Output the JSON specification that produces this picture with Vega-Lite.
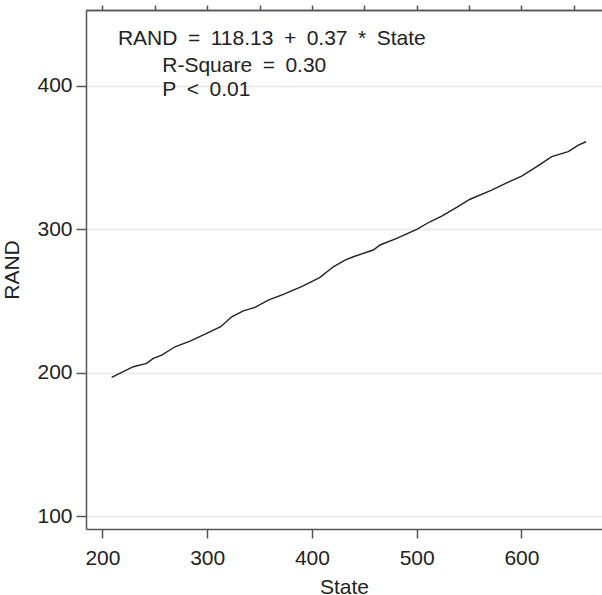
{
  "$schema": "https://vega.github.io/schema/vega-lite/v6.json",
  "autosize": {"type": "none"},
  "padding": {"left": 86, "top": 10, "right": 0, "bottom": 66},
  "width": 516,
  "height": 519,
  "background": "white",
  "config": {
    "view": {"stroke": null},
    "font": "Liberation Sans",
    "axis": {
      "labelFont": "Liberation Sans",
      "titleFont": "Liberation Sans",
      "labelFontSize": 21,
      "titleFontSize": 21,
      "titleFontWeight": "normal",
      "labelColor": "#222",
      "titleColor": "#222",
      "domainColor": "#555",
      "domainWidth": 1.5,
      "tickColor": "#555",
      "tickWidth": 1.5
    }
  },
  "layer": [
    {
      "data": {"values": [
        {"State": 208.8, "RAND": 196.8},
        {"State": 229.5, "RAND": 204.2},
        {"State": 242.2, "RAND": 206.5},
        {"State": 248.5, "RAND": 210.0},
        {"State": 256.6, "RAND": 212.3},
        {"State": 269.3, "RAND": 218.1},
        {"State": 283.6, "RAND": 222.1},
        {"State": 299.5, "RAND": 227.5},
        {"State": 312.9, "RAND": 232.1},
        {"State": 323.4, "RAND": 239.0},
        {"State": 334.5, "RAND": 243.2},
        {"State": 345.6, "RAND": 245.6},
        {"State": 358.3, "RAND": 250.7},
        {"State": 372.7, "RAND": 254.7},
        {"State": 391.7, "RAND": 260.5},
        {"State": 407.7, "RAND": 266.5},
        {"State": 420.4, "RAND": 273.9},
        {"State": 431.6, "RAND": 278.6},
        {"State": 439.5, "RAND": 280.9},
        {"State": 458.6, "RAND": 285.6},
        {"State": 465.0, "RAND": 289.1},
        {"State": 480.9, "RAND": 293.7},
        {"State": 500.0, "RAND": 300.0},
        {"State": 512.7, "RAND": 305.3},
        {"State": 523.9, "RAND": 309.3},
        {"State": 538.2, "RAND": 315.4},
        {"State": 550.9, "RAND": 321.0},
        {"State": 571.6, "RAND": 327.4},
        {"State": 585.9, "RAND": 332.5},
        {"State": 600.2, "RAND": 337.2},
        {"State": 614.6, "RAND": 343.7},
        {"State": 628.9, "RAND": 350.7},
        {"State": 644.7, "RAND": 354.2},
        {"State": 654.3, "RAND": 358.8},
        {"State": 661.6, "RAND": 361.1}
      ]},
      "mark": {"type": "line", "color": "#222", "strokeWidth": 1.4, "clip": true},
      "encoding": {
        "x": {
          "field": "State", "type": "quantitative",
          "scale": {"domain": [184.3, 676.9], "nice": false, "zero": false},
          "axis": {
            "title": "State", "values": [200, 300, 400, 500, 600],
            "grid": false, "tickSize": 9, "labelPadding": 9, "titlePadding": 8
          }
        },
        "y": {
          "field": "RAND", "type": "quantitative",
          "scale": {"domain": [91, 453], "nice": false, "zero": false},
          "axis": {
            "title": "RAND", "values": [100, 200, 300, 400],
            "grid": true, "gridColor": "#e6e6e6", "gridWidth": 1.5,
            "tickSize": 10, "labelPadding": 4, "titlePadding": 14
          }
        }
      }
    },
    {
      "data": {"values": [
        {"label": "RAND\u2002=\u2002118.13\u2002+\u20020.37\u2002*\u2002State", "lx": 214.8, "ly": 428.6},
        {"label": "R-Square\u2002=\u20020.30", "lx": 257.1, "ly": 410.0},
        {"label": "P\u2002<\u20020.01", "lx": 257.1, "ly": 393.0}
      ]},
      "mark": {"type": "text", "align": "left", "baseline": "alphabetic", "fontSize": 21, "font": "Liberation Sans", "color": "#222"},
      "encoding": {
        "x": {"field": "lx", "type": "quantitative"},
        "y": {"field": "ly", "type": "quantitative"},
        "text": {"field": "label"}
      }
    },
    {
      "data": {"values": [{"State": 200}]},
      "mark": {"type": "rule", "opacity": 0},
      "encoding": {
        "x": {"field": "State", "type": "quantitative",
          "axis": {"orient": "top", "title": null, "labels": false, "ticks": false, "grid": false, "domain": true}
        }
      }
    }
  ],
  "resolve": {"axis": {"x": "independent"}}
}
